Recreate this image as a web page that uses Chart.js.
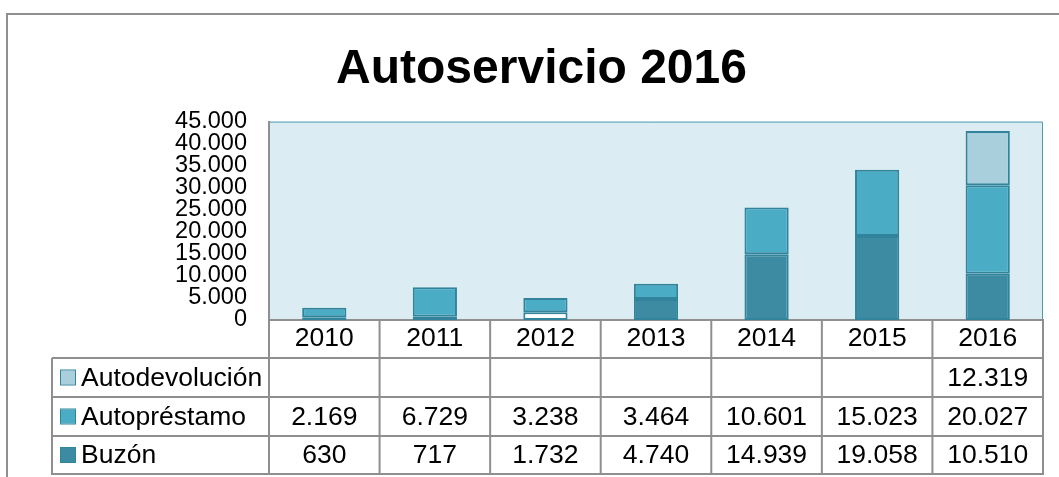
<!DOCTYPE html>
<html>
<head>
<meta charset="utf-8">
<title>Autoservicio 2016</title>
<script src="https://cdn.jsdelivr.net/npm/chart.js@4/dist/chart.umd.min.js"></script>
<style>
  body { margin: 0; background: #fff; }
  canvas { display: block; }
</style>
</head>
<body>
<canvas id="myChart" width="1059" height="477"></canvas>
<script>
const years = ['2010', '2011', '2012', '2013', '2014', '2015', '2016'];
const buzon = [630, 717, 1732, 4740, 14939, 19058, 10510];
const autoprestamo = [2169, 6729, 3238, 3464, 10601, 15023, 20027];
const autodevolucion = [null, null, null, null, null, null, 12319];
const yMax = 45000;
const yStep = 5000;

const fontFamily = '"Liberation Sans", Arial, sans-serif';
const lineColor = '#8f8f8f';

var fmt = function(v) {
    return v.toString().replace(/\B(?=(\d{3})+(?!\d))/g, '.');
};

// buzon 2012 is white in the original
var buzonColors = years.map((y, i) => i === 2 ? '#ffffff' : '#3c8ba2');

var rows = [
    { label: 'Autodevolución', data: autodevolucion, color: '#a9cfdd' },
    { label: 'Autopréstamo', data: autoprestamo, color: '#4bacc6' },
    { label: 'Buzón', data: buzon, color: '#3c8ba2' }
];

var framePlugin = {
    id: 'frame',
    beforeDraw: function(chart) {
        var ctx = chart.ctx;
        var a = chart.chartArea;
        ctx.save();
        // outer frame
        ctx.strokeStyle = lineColor;
        ctx.lineWidth = 2;
        ctx.beginPath();
        ctx.moveTo(7, 477);
        ctx.lineTo(7, 14);
        ctx.lineTo(1059, 14);
        ctx.stroke();
        // plot background
        ctx.fillStyle = '#dbedf3';
        ctx.fillRect(a.left, a.top, a.right - a.left, a.bottom - a.top);
        ctx.strokeStyle = '#4f9bb2';
        ctx.lineWidth = 1;
        ctx.beginPath();
        ctx.moveTo(a.left, a.top + 0.5);
        ctx.lineTo(a.right - 0.5, a.top + 0.5);
        ctx.lineTo(a.right - 0.5, a.bottom);
        ctx.stroke();
        ctx.restore();
    },
    afterDraw: function(chart) {
        var ctx = chart.ctx;
        var a = chart.chartArea;
        var x = chart.scales.x;
        var half = (x.getPixelForValue(1) - x.getPixelForValue(0)) / 2;
        var rowTops = [358, 397, 436, 474];
        var tableLeft = 52;
        ctx.save();
        ctx.strokeStyle = lineColor;
        ctx.lineWidth = 2;
        ctx.beginPath();
        rowTops.forEach(y => {
            ctx.moveTo(tableLeft, y);
            ctx.lineTo(a.right + 1, y);
        });
        ctx.moveTo(tableLeft, rowTops[0]);
        ctx.lineTo(tableLeft, rowTops[3] + 1);
        ctx.moveTo(a.left, a.bottom);
        ctx.lineTo(a.left, rowTops[3] + 1);
        for (var i = 0; i < years.length; i++) {
            var edge = x.getPixelForValue(i) + half;
            ctx.moveTo(edge, a.bottom);
            ctx.lineTo(edge, rowTops[3] + 1);
        }
        ctx.stroke();

        ctx.font = '26.5px ' + fontFamily;
        ctx.fillStyle = '#000';
        ctx.textBaseline = 'middle';
        rows.forEach((row, r) => {
            var cy = (rowTops[r] + rowTops[r + 1]) / 2;
            // legend key
            ctx.fillStyle = row.color;
            ctx.fillRect(61, cy - 7, 14, 14);
            ctx.strokeStyle = '#31849b';
            ctx.lineWidth = 1;
            ctx.strokeRect(60.5, cy - 7.5, 15, 15);
            ctx.fillStyle = '#000';
            ctx.textAlign = 'left';
            ctx.fillText(row.label, 81, cy + 1);
            ctx.textAlign = 'center';
            row.data.forEach((v, i) => {
                if (v !== null) {
                    ctx.fillText(fmt(v), x.getPixelForValue(i), cy + 1);
                }
            });
        });
        ctx.restore();
    }
};

Chart.defaults.color = '#000';
Chart.defaults.font.family = fontFamily;

var ctx = document.getElementById('myChart');
var myChart = new Chart(ctx, {
    type: 'bar',
    data: {
        labels: years,
        datasets: [
            { label: 'Buzón', data: buzon, backgroundColor: buzonColors },
            { label: 'Autopréstamo', data: autoprestamo, backgroundColor: '#4bacc6' },
            { label: 'Autodevolución', data: autodevolucion, backgroundColor: '#a9cfdd' }
        ]
    },
    options: {
        responsive: false,
        animation: false,
        devicePixelRatio: 1,
        layout: { padding: { top: 0, right: 16, bottom: 0, left: 40 } },
        datasets: {
            bar: {
                categoryPercentage: 1,
                barPercentage: 0.4,
                borderColor: '#31849b',
                borderWidth: 2,
                borderSkipped: false
            }
        },
        plugins: {
            legend: { display: false },
            tooltip: { enabled: false },
            title: {
                display: true,
                text: 'Autoservicio 2016',
                color: '#000',
                font: { size: 48, weight: 'bold', lineHeight: 1.2 },
                padding: { top: 41, bottom: 23 }
            }
        },
        scales: {
            x: {
                stacked: true,
                grid: { display: false, drawTicks: false },
                border: { color: lineColor, width: 2 },
                ticks: { font: { size: 26.5 }, padding: 3, maxRotation: 0 },
                afterFit: function(scale) { scale.height = 157; }
            },
            y: {
                stacked: true,
                min: 0,
                max: yMax,
                grid: { display: false, drawTicks: false },
                border: { color: lineColor, width: 2 },
                ticks: {
                    stepSize: yStep,
                    autoSkip: false,
                    font: { size: 23.5, lineHeight: 1 },
                    padding: 22,
                    callback: function(v) { return fmt(v); }
                },
                afterFit: function(scale) { scale.width = 229; }
            }
        }
    },
    plugins: [framePlugin]
});
</script>
</body>
</html>
